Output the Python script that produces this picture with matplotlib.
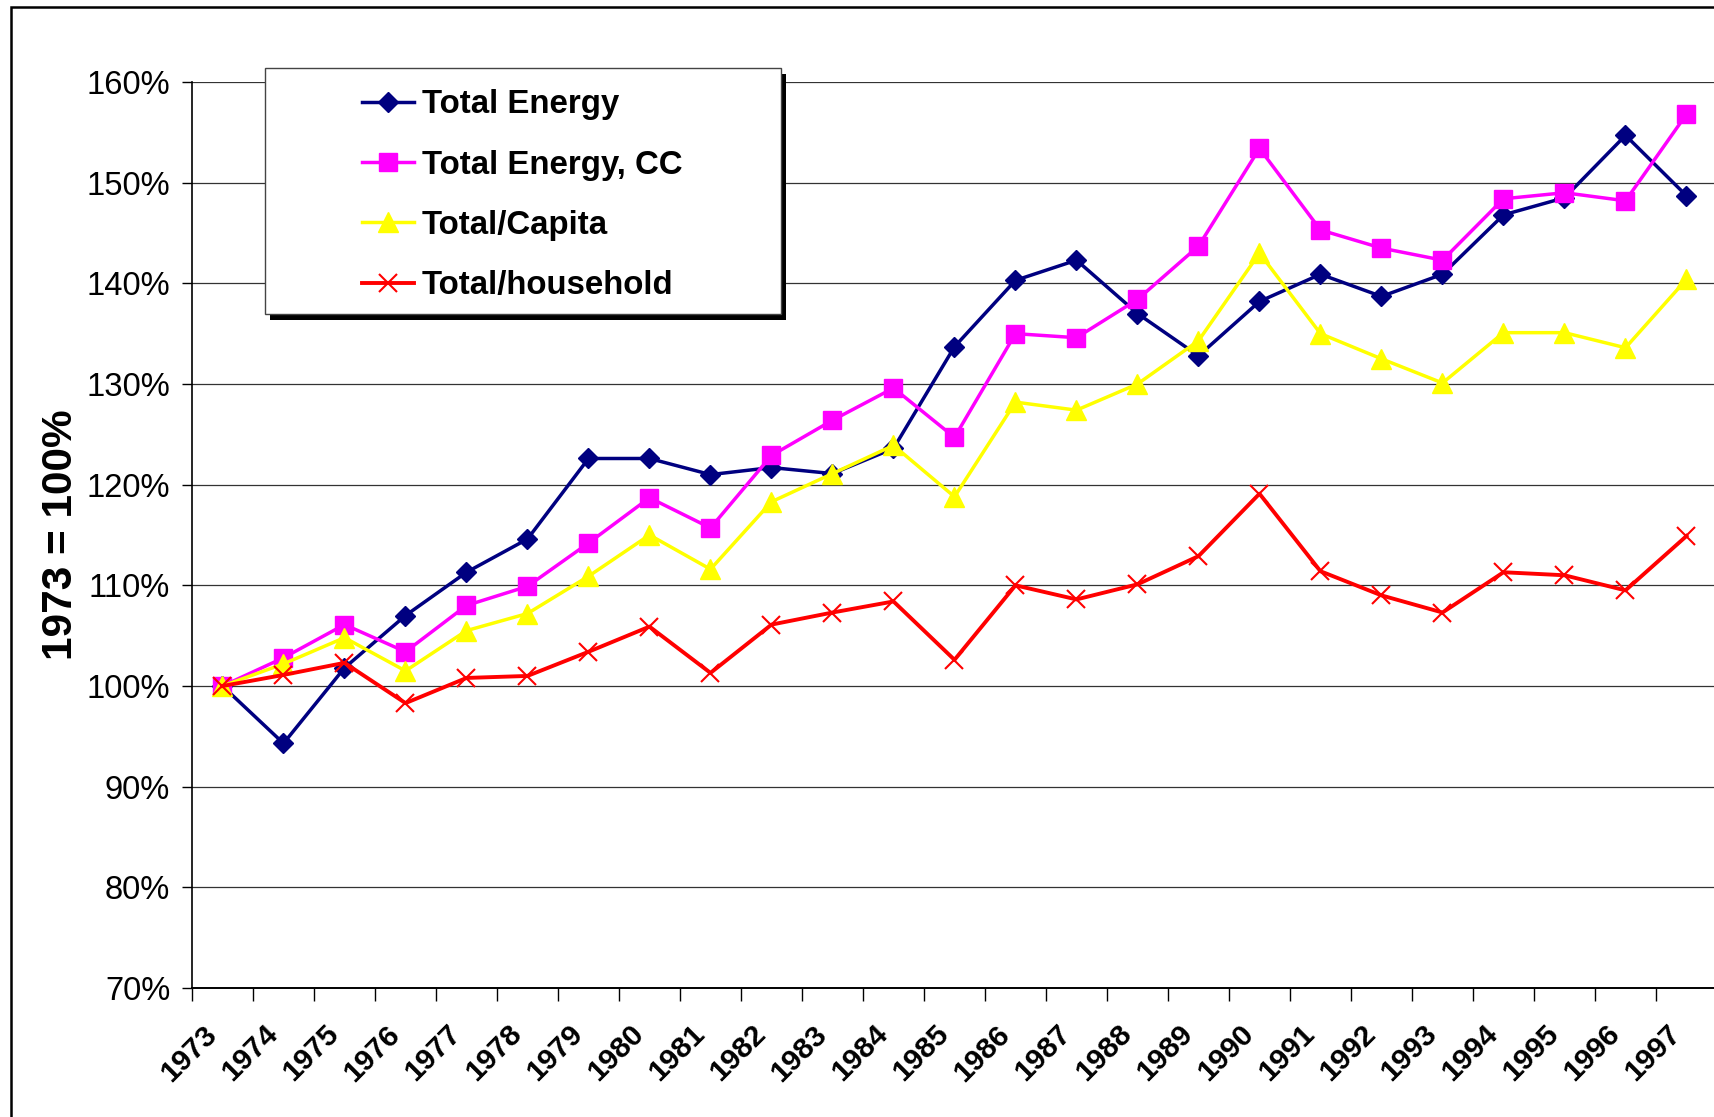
import numpy as np
import matplotlib
matplotlib.use('Agg')
import matplotlib.pyplot as plt
from matplotlib.patches import Rectangle

plt.rcParams['font.family'] = ['Liberation Sans', 'DejaVu Sans']

years = [str(y) for y in range(1973, 1998)]

total_energy = [100.0, 94.3, 101.8, 107.0, 111.3, 114.6, 122.6, 122.6, 121.0, 121.7,
                121.1, 123.6, 133.7, 140.3, 142.3, 137.0, 132.8, 138.2, 140.9, 138.7,
                140.9, 146.8, 148.5, 154.7, 148.7]
total_energy_cc = [100.0, 102.8, 106.1, 103.4, 108.0, 109.9, 114.2, 118.7, 115.7, 122.9,
                   126.4, 129.6, 124.7, 135.0, 134.6, 138.4, 143.7, 153.4, 145.3, 143.5,
                   142.3, 148.4, 149.0, 148.2, 156.8]
total_capita = [100.0, 102.2, 104.8, 101.5, 105.5, 107.2, 110.9, 115.0, 111.6, 118.3,
                121.1, 123.9, 118.8, 128.2, 127.4, 130.0, 134.3, 143.0, 135.0, 132.5,
                130.1, 135.1, 135.1, 133.6, 140.4]
total_household = [100.0, 101.1, 102.3, 98.3, 100.8, 101.0, 103.4, 105.9, 101.3, 106.1,
                   107.3, 108.4, 102.6, 110.0, 108.6, 110.1, 112.9, 119.1, 111.4, 109.0,
                   107.3, 111.3, 111.0, 109.5, 114.9]

y_ticks = [70, 80, 90, 100, 110, 120, 130, 140, 150, 160]

W, H = 1715, 1117
fig = plt.figure(figsize=(W / 100, H / 100), dpi=100)
ax = fig.add_axes([192 / W, 1 - 988 / H, (1717 - 192) / W, (988 - 82) / H])

x = np.arange(len(years))
ax.plot(x, total_energy, '-D', color='#000080', lw=2.5, ms=10,
        label='Total Energy', clip_on=False)
ax.plot(x, total_energy_cc, '-s', color='#FF00FF', lw=2.5, ms=13,
        label='Total Energy, CC', clip_on=False)
ax.plot(x, total_capita, '-^', color='#FFFF00', lw=2.5, ms=14,
        label='Total/Capita', clip_on=False)
ax.plot(x, total_household, '-x', color='#FF0000', lw=2.8, ms=13, mew=1.5,
        label='Total/household', clip_on=False)

ax.set_xlim(-0.5, 24.5)
ax.set_ylim(70, 160)

ax.set_xticks(x, years, rotation=45, ha='right', fontsize=21.5, fontweight='bold')
ax.set_xticks(np.arange(-0.5, 25, 1), minor=True)
ax.tick_params(axis='x', which='major', length=0, pad=23)
ax.tick_params(axis='x', which='minor', length=9, width=1)

ax.set_yticks(y_ticks, [f'{v}%' for v in y_ticks], fontsize=23.6)
ax.tick_params(axis='y', length=7.2, width=1, pad=8.5)

ax.yaxis.grid(True, color='#333333', lw=0.9)
ax.set_axisbelow(True)
for s in ['top', 'right']:
    ax.spines[s].set_visible(False)
ax.spines['left'].set_linewidth(1.2)
ax.spines['bottom'].set_linewidth(1.4)

ax.set_ylabel('1973 = 100%', fontsize=30.5, fontweight='bold')
ax.yaxis.set_label_coords(-0.073, 0.5)

# legend box with hard black shadow, like the spreadsheet original
shadow = Rectangle((270 / W, 1 - 320 / H), (786 - 270) / W, (320 - 74) / H,
                   transform=fig.transFigure, facecolor='black', edgecolor='none',
                   zorder=3)
box = Rectangle((265 / W, 1 - 314 / H), (781 - 265) / W, (314 - 68) / H,
                transform=fig.transFigure, facecolor='white', edgecolor='#444444',
                lw=1, zorder=4)
fig.add_artist(shadow)
fig.add_artist(box)
handles, labels = ax.get_legend_handles_labels()
leg = fig.legend(handles, labels, loc='upper left',
                 bbox_to_anchor=(362 / W, 1 - 89.5 / H), bbox_transform=fig.transFigure,
                 frameon=False, borderpad=0, borderaxespad=0, handlelength=1.56,
                 handletextpad=0.25, labelspacing=0.885, numpoints=1,
                 prop={'weight': 'bold', 'size': 23.8})
leg.set_zorder(5)

# outer chart frame
frame = Rectangle((11 / W, -0.5), 2, 1.5 - 7 / H, transform=fig.transFigure,
                  fill=False, edgecolor='black', lw=1.8)
fig.add_artist(frame)

fig.savefig('out.png', dpi=100)
